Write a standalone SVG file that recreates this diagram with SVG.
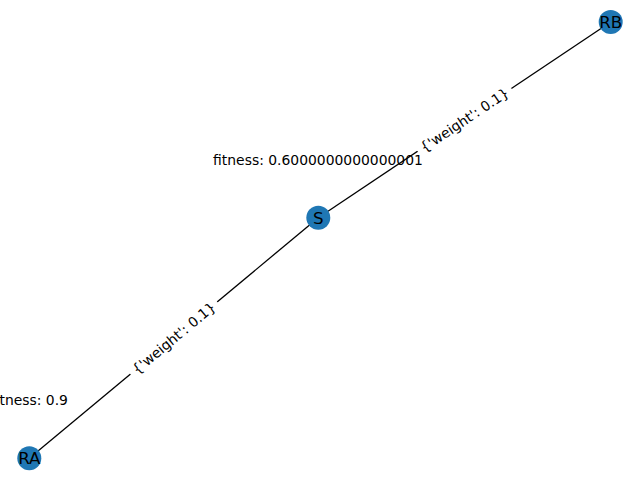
<svg xmlns="http://www.w3.org/2000/svg" width="640" height="480" viewBox="0 0 640 480">
<style>
.node{fill:#1f77b4}
.nlab{font-family:"DejaVu Sans",sans-serif;font-size:16.7px;fill:#000;text-anchor:middle;dominant-baseline:central}
.elab{font-family:"DejaVu Sans",sans-serif;font-size:13.9px;fill:#000;text-anchor:middle;dominant-baseline:central}
.attr{font-family:"DejaVu Sans",sans-serif;font-size:13.9px;fill:#000;text-anchor:middle}
.edge{stroke:#000;stroke-width:1.3;fill:none}
.lbox{fill:#fff;stroke:#fff}
</style>
<rect width="640" height="480" fill="#fff"/>
<g id="edges">
<line class="edge" x1="29.3" y1="458.3" x2="318.3" y2="217.7"/>
<line class="edge" x1="318.3" y1="217.7" x2="610.7" y2="22"/>
<g transform="translate(173.8,338) rotate(-39.8)">
<rect class="lbox" x="-56" y="-10" width="112" height="20" rx="4"/>
<text class="elab" x="0" y="0">{'weight': 0.1}</text>
</g>
<g transform="translate(464.5,119.9) rotate(-33.8)">
<rect class="lbox" x="-56" y="-10" width="112" height="20" rx="4"/>
<text class="elab" x="0" y="0">{'weight': 0.1}</text>
</g>
</g>
<g id="node-RB">
<circle class="node" cx="610.7" cy="22" r="12"/>
<text class="nlab" x="610.7" y="22">RB</text>
</g>
<g id="node-S">
<circle class="node" cx="318.3" cy="217.7" r="12"/>
<text class="nlab" x="318.3" y="217.7">S</text>
</g>
<g id="node-RA">
<circle class="node" cx="29.3" cy="458.3" r="12"/>
<text class="nlab" x="29.3" y="458.3">RA</text>
</g>
<g id="attrs">
<text class="attr" x="318" y="165">fitness: 0.6000000000000001</text>
<text class="attr" x="29.3" y="405">fitness: 0.9</text>
</g>
</svg>
